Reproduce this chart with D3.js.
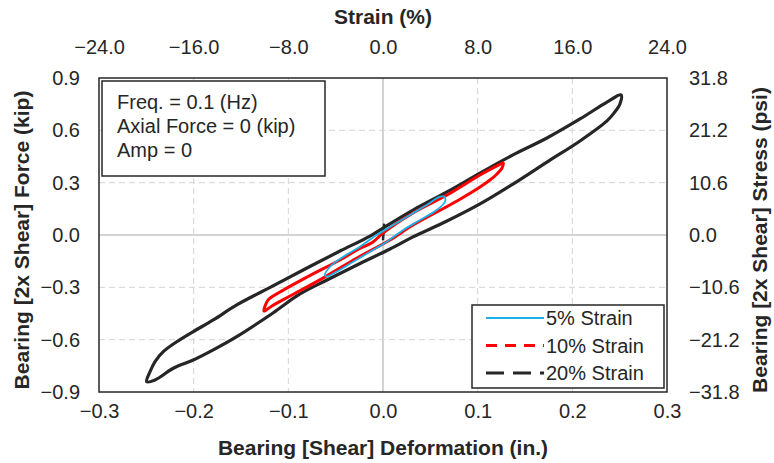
<!DOCTYPE html>
<html>
<head>
<meta charset="utf-8">
<script src="https://cdn.jsdelivr.net/npm/d3@7"></script>
<style>
  body { margin: 0; background: #fff; }
  text { font-family: "Liberation Sans", Arial, sans-serif; fill: #262626; }
  .tick-lbl { font-size: 20px; }
  .title { font-size: 21px; font-weight: bold; }
</style>
</head>
<body>
<div id="chart"></div>
<script>
// ---------------------------------------
// axis ticks
const defTicks = [-0.3, -0.2, -0.1, 0.0, 0.1, 0.2, 0.3];
const forceTicks = [-0.9, -0.6, -0.3, 0.0, 0.3, 0.6, 0.9];
const strainTicks = [-24, -16, -8, 0, 8, 16, 24];
const stressTicks = [-31.8, -21.2, -10.6, 0.0, 10.6, 21.2, 31.8];

// legend / annotation text
const seriesNames = ["5% Strain", "10% Strain", "20% Strain"];
const noteLines = ["Freq. = 0.1 (Hz)", "Axial Force = 0 (kip)", "Amp = 0"];

// ---------------------------------------
// hysteresis loops [deformation (in.), force (kip)]
const loop5 = [
  [-0.0613, -0.229], [-0.0560, -0.182], [-0.0419, -0.124], [-0.0243, -0.067],
  [-0.0067, 0.0], [0.0109, 0.057], [0.0285, 0.115], [0.0462, 0.172],
  [0.0602, 0.220], [0.0650, 0.218],
  [0.0655, 0.191], [0.0567, 0.143], [0.0391, 0.086], [0.0214, 0.029],
  [0.0039, -0.038], [-0.0137, -0.096], [-0.0314, -0.153], [-0.0489, -0.210],
  [-0.0595, -0.239]
];
const loop10 = [
  [-0.1257, -0.436], [-0.1215, -0.373], [-0.1088, -0.327], [-0.0803, -0.241],
  [-0.0454, -0.143], [-0.0275, -0.086], [-0.0106, -0.040], [0.0, 0.011],
  [0.0317, 0.126], [0.0676, 0.229], [0.1025, 0.344], [0.1204, 0.396], [0.1268, 0.413],
  [0.1257, 0.384], [0.1204, 0.350], [0.1130, 0.315], [0.1025, 0.275], [0.0782, 0.195],
  [0.0317, 0.057], [0.0074, -0.029], [-0.0275, -0.132], [-0.0634, -0.247],
  [-0.0982, -0.350], [-0.1173, -0.407], [-0.1240, -0.432]
];
const loop20 = [
  [-0.2496, -0.841], [-0.2461, -0.784], [-0.2408, -0.726], [-0.2321, -0.669],
  [-0.2179, -0.612], [-0.2004, -0.554], [-0.1793, -0.487], [-0.1545, -0.401],
  [-0.1162, -0.292], [-0.0803, -0.189], [-0.0454, -0.092], [-0.0137, -0.006],
  [0.0, 0.040], [0.0317, 0.143], [0.0676, 0.247], [0.1025, 0.355], [0.1373, 0.459],
  [0.1732, 0.556], [0.2081, 0.665], [0.2366, 0.762], [0.2514, 0.803],
  [0.2503, 0.751], [0.2440, 0.699], [0.2366, 0.654], [0.2081, 0.539],
  [0.1732, 0.418], [0.1373, 0.292], [0.1025, 0.178], [0.0676, 0.080],
  [0.0317, -0.011], [0.0074, -0.080], [-0.0275, -0.172], [-0.0592, -0.258],
  [-0.0877, -0.338], [-0.1162, -0.447], [-0.1545, -0.583], [-0.1793, -0.659],
  [-0.2004, -0.717], [-0.2215, -0.764], [-0.2408, -0.831]
];
// first ramp from rest, the little spike at the origin
const start20 = [[0.0, -0.030], [0.0012, 0.065]];

// ---------------------------------------
// svg params
const W = 774, H = 463;
const margin = {top: 78, right: 107, bottom: 71, left: 99};
const width = W - margin.left - margin.right;
const height = H - margin.top - margin.bottom;

const svg = d3.select("#chart").append("svg")
    .attr("width", W)
    .attr("height", H);
const g = svg.append("g")
    .attr("transform", "translate(" + margin.left + "," + margin.top + ")");

// scales
const x = d3.scaleLinear().domain([-0.3, 0.3]).range([0, width]);
const y = d3.scaleLinear().domain([-0.9, 0.9]).range([height, 0]);
const xTop = d3.scaleLinear().domain([-24, 24]).range([0, width]);
const yRight = d3.scaleLinear().domain([-31.8, 31.8]).range([height, 0]);

// ---------------------------------------
// grid
g.selectAll(".vgrid")
    .data(defTicks.slice(1, -1))
    .enter().append("line")
    .attr("x1", (d) => x(d)).attr("x2", (d) => x(d))
    .attr("y1", 0).attr("y2", height)
    .attr("stroke", (d) => d === 0 ? "#c4c4c4" : "#d4d4d4")
    .attr("stroke-width", (d) => d === 0 ? 1.5 : 1)
    .attr("stroke-dasharray", (d) => d === 0 ? null : "6,4");
g.selectAll(".hgrid")
    .data(forceTicks.slice(1, -1))
    .enter().append("line")
    .attr("y1", (d) => y(d)).attr("y2", (d) => y(d))
    .attr("x1", 0).attr("x2", width)
    .attr("stroke", (d) => d === 0 ? "#c4c4c4" : "#d4d4d4")
    .attr("stroke-width", (d) => d === 0 ? 1.5 : 1)
    .attr("stroke-dasharray", (d) => d === 0 ? null : "6,4");

// ---------------------------------------
// axes (labels only, no tick marks)
function styleAxis(sel) {
  sel.select(".domain").remove();
  sel.selectAll(".tick line").remove();
  sel.selectAll(".tick text").attr("class", "tick-lbl").attr("fill", "#262626");
}
g.append("g")
    .attr("transform", "translate(0," + height + ")")
    .call(d3.axisBottom(x).tickValues(defTicks).tickSize(0).tickPadding(12).tickFormat(d3.format(".1f")))
    .call(styleAxis);
g.append("g")
    .call(d3.axisTop(xTop).tickValues(strainTicks).tickSize(0).tickPadding(24).tickFormat(d3.format(".1f")))
    .call(styleAxis);
g.append("g")
    .call(d3.axisLeft(y).tickValues(forceTicks).tickSize(0).tickPadding(19).tickFormat(d3.format(".1f")))
    .call(styleAxis);
g.append("g")
    .attr("transform", "translate(" + width + ",0)")
    .call(d3.axisRight(yRight).tickValues(stressTicks).tickSize(0).tickPadding(22).tickFormat(d3.format(".1f")))
    .call(styleAxis);

// axis titles
svg.append("text").attr("class", "title")
    .attr("x", margin.left + width / 2).attr("y", 455)
    .attr("text-anchor", "middle")
    .text("Bearing [Shear] Deformation (in.)");
svg.append("text").attr("class", "title")
    .attr("x", margin.left + width / 2).attr("y", 24)
    .attr("text-anchor", "middle")
    .text("Strain (%)");
svg.append("text").attr("class", "title")
    .attr("transform", "translate(29," + (margin.top + height / 2 + 5) + ") rotate(-90)")
    .attr("text-anchor", "middle")
    .text("Bearing [2x Shear] Force (kip)");
svg.append("text").attr("class", "title")
    .attr("transform", "translate(767," + (margin.top + height / 2 + 5) + ") rotate(-90)")
    .attr("text-anchor", "middle")
    .text("Bearing [2x Shear] Stress (psi)");

// ---------------------------------------
// loops
const loopLine = d3.line()
    .x((d) => x(d[0]))
    .y((d) => y(d[1]))
    .curve(d3.curveCatmullRomClosed.alpha(0.5));
const openLine = d3.line()
    .x((d) => x(d[0]))
    .y((d) => y(d[1]));

g.append("path").datum(loop20)
    .attr("d", loopLine)
    .attr("fill", "none").attr("stroke", "#262626").attr("stroke-width", 3.2)
    .attr("stroke-linejoin", "round");
g.append("path").datum(start20)
    .attr("d", openLine)
    .attr("fill", "none").attr("stroke", "#262626").attr("stroke-width", 2.5);
g.append("path").datum(loop10)
    .attr("d", loopLine)
    .attr("fill", "none").attr("stroke", "#ff0000").attr("stroke-width", 3)
    .attr("stroke-linejoin", "round");
g.append("path").datum(loop5)
    .attr("d", loopLine)
    .attr("fill", "none").attr("stroke", "#1ab2ea").attr("stroke-width", 1.8)
    .attr("stroke-linejoin", "round");

// ---------------------------------------
// plot frame
g.append("rect")
    .attr("x", 0).attr("y", 0).attr("width", width).attr("height", height)
    .attr("fill", "none").attr("stroke", "#262626").attr("stroke-width", 1.5);

// annotation box
const note = svg.append("g").attr("transform", "translate(102,81)");
note.append("rect")
    .attr("width", 223).attr("height", 95)
    .attr("fill", "#fff").attr("stroke", "#262626").attr("stroke-width", 1.5);
note.selectAll("text")
    .data(noteLines)
    .enter().append("text")
    .attr("x", 15).attr("y", (d, i) => 28 + i * 24)
    .attr("font-size", "20px")
    .text((d) => d);

// legend
const legendStyles = [
  {color: "#1ab2ea", w: 1.8, dash: null},
  {color: "#ff0000", w: 3, dash: "11,8"},
  {color: "#262626", w: 3, dash: "18,9"}
];
const legend = svg.append("g").attr("transform", "translate(472,305)");
legend.append("rect")
    .attr("width", 192).attr("height", 83)
    .attr("fill", "#fff").attr("stroke", "#262626").attr("stroke-width", 1.5);
const item = legend.selectAll(".item")
    .data(seriesNames)
    .enter().append("g")
    .attr("transform", (d, i) => "translate(0," + (13 + i * 27.5) + ")");
item.append("line")
    .attr("x1", 14).attr("x2", 72)
    .attr("stroke", (d, i) => legendStyles[i].color)
    .attr("stroke-width", (d, i) => legendStyles[i].w)
    .attr("stroke-dasharray", (d, i) => legendStyles[i].dash);
item.append("text")
    .attr("x", 74).attr("y", 7)
    .attr("font-size", "20px")
    .text((d) => d);
</script>
</body>
</html>
